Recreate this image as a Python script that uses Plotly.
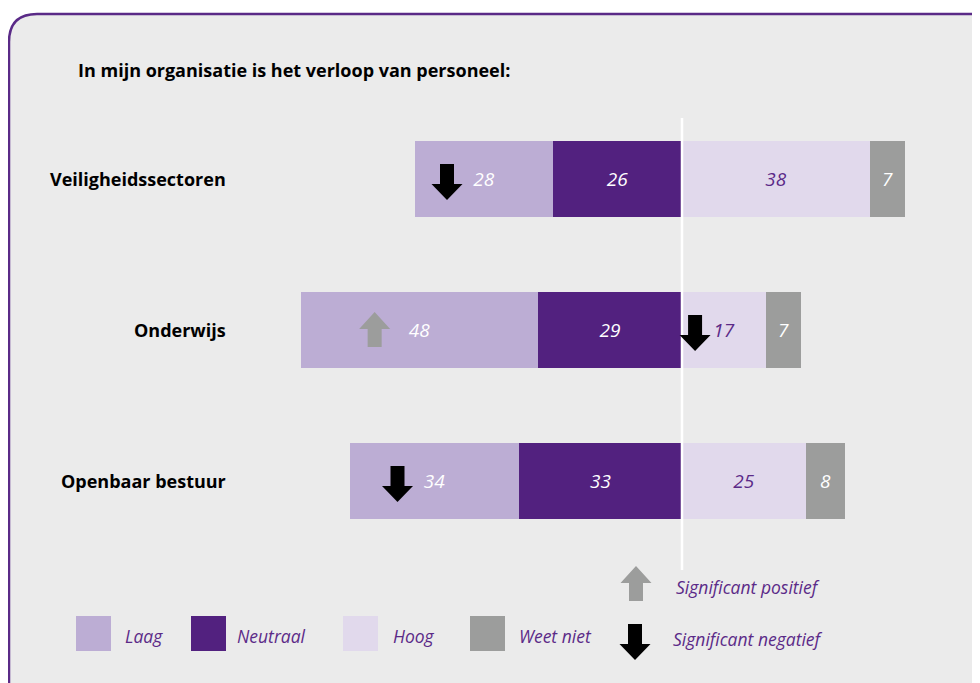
import plotly.graph_objects as go

# ---------------- data ----------------
categories = ["Veiligheidssectoren", "Onderwijs", "Openbaar bestuur"]
laag = [28, 48, 34]
neutraal = [26, 29, 33]
hoog = [38, 17, 25]
weet_niet = [7, 7, 8]
series_names = ["Laag", "Neutraal", "Hoog", "Weet niet"]
title_text = "In mijn organisatie is het verloop van personeel:"
# significance markers: (category index, series, direction)
sig_cat = [0, 1, 1, 2]
sig_series = ["Laag", "Laag", "Hoog", "Laag"]
sig_dir = ["neg", "pos", "neg", "neg"]
sig_labels = ["Significant positief", "Significant negatief"]

# ---------------- style / layout ----------------
OFF = 8                 # page body margin offset of the figure
W, H = 980 - OFF, 683 - OFF
X0_PX = 682             # screen pixel position of the zero line
PXU = 4.95              # pixels per percentage point
ROW0_PX = 179           # screen pixel centre of first row
ROW_STEP = 151          # pixels between rows
BAR_PX = 76

C_LAAG = "#bcadd4"
C_NEUTRAAL = "#52217f"
C_HOOG = "#e1d9ec"
C_WEET = "#9c9d9c"
C_TEXT_PURPLE = "#5b2a88"
C_BORDER = "#5a2a87"
C_BG = "#ebebeb"
C_ARROW_NEG = "#000000"
C_ARROW_POS = "#9c9d9c"
FONT = "Open Sans"

colors = {"Laag": C_LAAG, "Neutraal": C_NEUTRAAL, "Hoog": C_HOOG, "Weet niet": C_WEET}
text_colors = {"Laag": "white", "Neutraal": "white", "Hoog": C_TEXT_PURPLE, "Weet niet": "white"}
# horizontal pixel offset of each significance arrow from its segment centre
arrow_dx_px = [-37, -45, -29, -37]

x0f = X0_PX - OFF
r0f = ROW0_PX - OFF
x_range = [-x0f / PXU, (W - x0f) / PXU]
y_range = [(H - r0f) / ROW_STEP, -r0f / ROW_STEP]


def px(x):
    return (x - OFF) / W


def py(y):
    return 1 - (y - OFF) / H


ypos = list(range(len(categories)))
values = {"Laag": laag, "Neutraal": neutraal, "Hoog": hoog, "Weet niet": weet_niet}
signs = {"Laag": -1, "Neutraal": -1, "Hoog": 1, "Weet niet": 1}

fig = go.Figure()
# stacking order: neutral then low to the left, high then don't know to the right
for name in ["Neutraal", "Laag", "Hoog", "Weet niet"]:
    vals = values[name]
    fig.add_trace(go.Bar(
        y=ypos,
        x=[signs[name] * v for v in vals],
        orientation="h",
        name=name,
        width=BAR_PX / ROW_STEP,
        marker=dict(color=colors[name], line=dict(width=0)),
        text=[str(v) for v in vals],
        textposition="inside",
        insidetextanchor="middle",
        constraintext="none",
        textangle=0,
        textfont=dict(family=FONT, size=19, color=text_colors[name], style="italic"),
        hoverinfo="skip",
        showlegend=False,
    ))

shapes = []

# background frame with rounded corners
r = 28
L, T, R, B = 9, 14, 1010, 712
frame_path = (
    f"M {px(L)},{py(B - r)} "
    f"L {px(L)},{py(T + r)} Q {px(L)},{py(T)} {px(L + r)},{py(T)} "
    f"L {px(R - r)},{py(T)} Q {px(R)},{py(T)} {px(R)},{py(T + r)} "
    f"L {px(R)},{py(B - r)} Q {px(R)},{py(B)} {px(R - r)},{py(B)} "
    f"L {px(L + r)},{py(B)} Q {px(L)},{py(B)} {px(L)},{py(B - r)} Z"
)
shapes.append(dict(type="path", xref="paper", yref="paper", path=frame_path,
                   fillcolor=C_BG, line=dict(color=C_BORDER, width=2.5), layer="below"))

# white zero line
shapes.append(dict(type="line", xref="x", yref="paper", x0=0, x1=0,
                   y0=py(118), y1=py(570), line=dict(color="white", width=2.5), layer="above"))


def arrow_pixels(cx, cy, direction):
    """Return arrow polygon in screen pixel coords (y down)."""
    sh, hh = 7, 15.5
    if direction == "neg":
        top, base, tip = cy - 15, cy + 5, cy + 21
        return [(cx - sh, top), (cx + sh, top), (cx + sh, base), (cx + hh, base),
                (cx, tip), (cx - hh, base), (cx - sh, base)]
    else:
        tip, base, bottom = cy - 18, cy - 1, cy + 17
        return [(cx - sh, bottom), (cx + sh, bottom), (cx + sh, base), (cx + hh, base),
                (cx, tip), (cx - hh, base), (cx - sh, base)]


def seg_center(name, i):
    if name == "Laag":
        return -(neutraal[i] + laag[i] / 2)
    if name == "Neutraal":
        return -neutraal[i] / 2
    if name == "Hoog":
        return hoog[i] / 2
    return hoog[i] + weet_niet[i] / 2


# significance arrows on the bars
for ci, sname, d, dxp in zip(sig_cat, sig_series, sig_dir, arrow_dx_px):
    cx_px = X0_PX + seg_center(sname, ci) * PXU + dxp
    cy_px = ROW0_PX + ypos[ci] * ROW_STEP
    pts = arrow_pixels(cx_px, cy_px, d)
    path = "M " + " L ".join(f"{px(x)},{py(y)}" for x, y in pts) + " Z"
    shapes.append(dict(type="path", xref="paper", yref="paper", path=path,
                       fillcolor=C_ARROW_NEG if d == "neg" else C_ARROW_POS,
                       line=dict(width=0), layer="above"))

annotations = []
# title
annotations.append(dict(text=f"<b>{title_text}</b>", xref="paper", yref="paper",
                        x=px(76), y=py(70), xanchor="left", yanchor="middle",
                        showarrow=False, font=dict(family=FONT, size=18, color="black")))
# category labels
for i, cat in enumerate(categories):
    annotations.append(dict(text=f"<b>{cat}</b>", xref="paper", yref="y",
                            x=px(228), y=ypos[i], xanchor="right", yanchor="middle",
                            showarrow=False, font=dict(family=FONT, size=18, color="black")))

# legend: colour squares
legend_sq_x = [76, 191, 343, 470]
legend_txt_x = [123, 235, 391, 517]
for name, sx, tx in zip(series_names, legend_sq_x, legend_txt_x):
    shapes.append(dict(type="rect", xref="paper", yref="paper",
                       x0=px(sx), x1=px(sx + 35), y0=py(651), y1=py(616),
                       fillcolor=colors[name], line=dict(width=0), layer="above"))
    annotations.append(dict(text=name, xref="paper", yref="paper",
                            x=px(tx), y=py(636), xanchor="left", yanchor="middle",
                            showarrow=False,
                            font=dict(family=FONT, size=17.5, color=C_TEXT_PURPLE, style="italic")))

# legend: significance arrows
for lbl, d, cx, cy, tx, ty in [(sig_labels[0], "pos", 636, 584, 674, 587),
                               (sig_labels[1], "neg", 635, 639, 671, 639)]:
    pts = arrow_pixels(cx, cy, d)
    path = "M " + " L ".join(f"{px(x)},{py(y)}" for x, y in pts) + " Z"
    shapes.append(dict(type="path", xref="paper", yref="paper", path=path,
                       fillcolor=C_ARROW_NEG if d == "neg" else C_ARROW_POS,
                       line=dict(width=0), layer="above"))
    annotations.append(dict(text=lbl, xref="paper", yref="paper",
                            x=px(tx), y=py(ty), xanchor="left", yanchor="middle",
                            showarrow=False,
                            font=dict(family=FONT, size=17.5, color=C_TEXT_PURPLE, style="italic")))

fig.update_layout(
    width=W, height=H,
    margin=dict(l=0, r=0, t=0, b=0),
    paper_bgcolor="white",
    plot_bgcolor="rgba(0,0,0,0)",
    barmode="relative",
    bargap=0,
    xaxis=dict(range=x_range, visible=False, fixedrange=True),
    yaxis=dict(range=y_range, visible=False, fixedrange=True),
    shapes=shapes,
    annotations=annotations,
    showlegend=False,
)

fig.write_html("out.html")
